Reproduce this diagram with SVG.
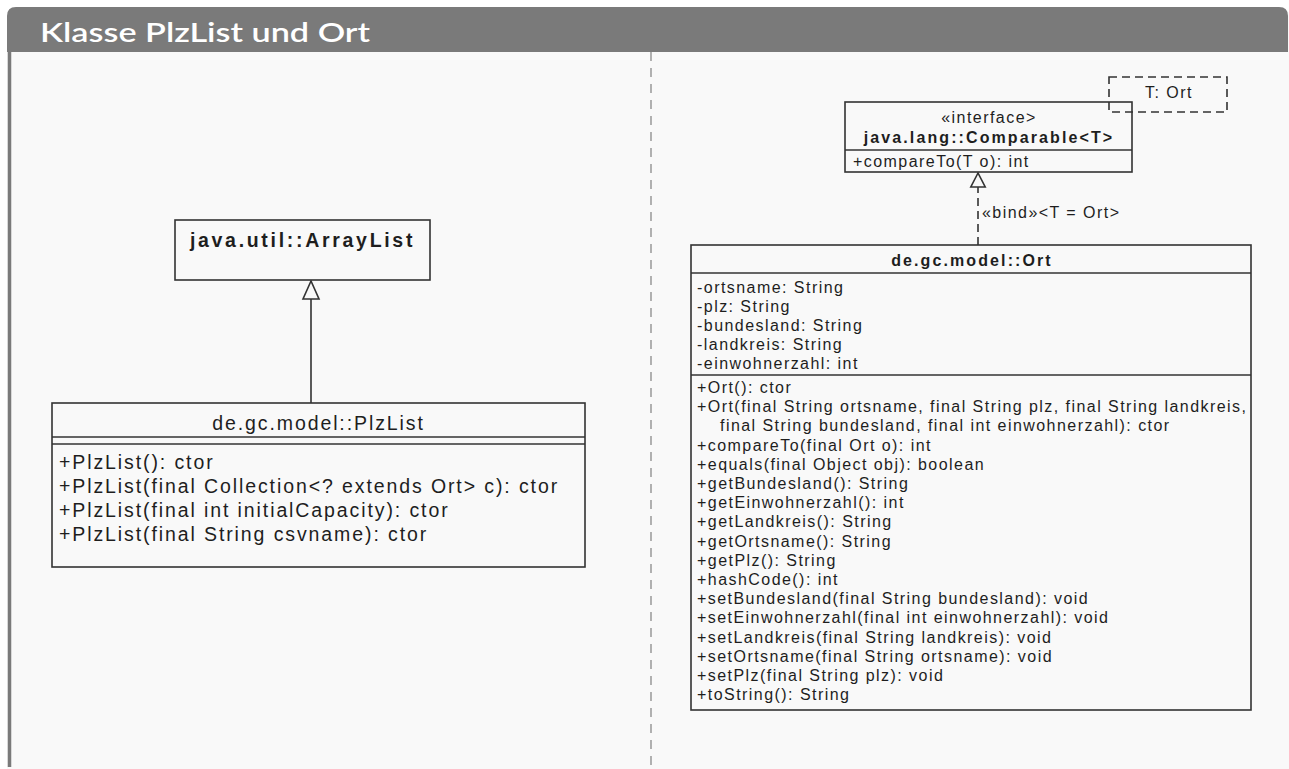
<svg xmlns="http://www.w3.org/2000/svg" width="1289" height="769" viewBox="0 0 1289 769">
<defs>
<style>
.t{font-family:"Liberation Sans",Arial,sans-serif;font-size:16px;letter-spacing:1.45px;fill:#1e1e1e}
.b{font-weight:bold;letter-spacing:2.1px}
.L{font-size:19.5px;letter-spacing:1.9px}
.LB{font-size:19.5px;font-weight:bold;letter-spacing:2.7px}
.box{fill:#f9f9f9;stroke:#333;stroke-width:1.6}
.ln{stroke:#333;stroke-width:1.6;fill:none}
.dash{stroke:#333;stroke-width:1.6;fill:none;stroke-dasharray:8 5}
.head{fill:#ffffff;font-family:Lato,"Open Sans",sans-serif;font-size:27px;font-weight:600}
</style>
<marker id="gen" markerWidth="20" markerHeight="20" refX="19" refY="9" orient="auto" markerUnits="userSpaceOnUse" viewBox="0 0 20 18">
<path d="M19 9 L1 1 L1 17 Z" fill="#f9f9f9" stroke="#333" stroke-width="1.6" stroke-linejoin="miter"/>
</marker>
<marker id="real" markerWidth="16" markerHeight="18" refX="15" refY="8" orient="auto" markerUnits="userSpaceOnUse" viewBox="0 0 16 16">
<path d="M15 8 L1 0.8 L1 15.2 Z" fill="#f9f9f9" stroke="#333" stroke-width="1.6"/>
</marker>
</defs>
<rect x="0" y="0" width="1289" height="769" fill="#ffffff"/>
<g id="frame">
<path d="M7 769 L7 16 Q7 7 16 7 L1280 7 Q1289 7 1289 16 L1289 769 Z" fill="#f9f9f9"/>
<path d="M7 52 L7 16 Q7 7 16 7 L1279 7 Q1288 7 1288 16 L1288 52 Z" fill="#7a7a7a"/>
<line x1="9.5" y1="52" x2="9.5" y2="767" stroke="#7a7a7a" stroke-width="3.5"/>
<text x="40" y="42" class="head" textLength="330" lengthAdjust="spacingAndGlyphs">Klasse PlzList und Ort</text>
<line x1="651" y1="52" x2="651" y2="769" stroke="#8a8a8a" stroke-width="1.3" stroke-dasharray="9 7"/>
</g>
<g id="connectors">
<line x1="311" y1="403" x2="311" y2="281" class="ln" marker-end="url(#gen)"/>
<line x1="978" y1="245" x2="978" y2="173" class="dash" marker-end="url(#real)"/>
<text x="982" y="218" class="t">«bind»&lt;T = Ort&gt;</text>
</g>
<g id="arraylist">
<rect x="175" y="220" width="255" height="60" class="box"/>
<text x="302.5" y="247" class="t LB" text-anchor="middle">java.util::ArrayList</text>
</g>
<g id="plzlist">
<rect x="52" y="403" width="533" height="164" class="box"/>
<line x1="52" y1="437" x2="585" y2="437" class="ln"/>
<line x1="52" y1="444" x2="585" y2="444" class="ln"/>
<text x="318.5" y="430" class="t L" text-anchor="middle">de.gc.model::PlzList</text>
<text x="59" y="469" class="t L">+PlzList(): ctor</text>
<text x="59" y="493" class="t L">+PlzList(final Collection&lt;? extends Ort&gt; c): ctor</text>
<text x="59" y="517" class="t L">+PlzList(final int initialCapacity): ctor</text>
<text x="59" y="541" class="t L">+PlzList(final String csvname): ctor</text>
</g>
<g id="comparable">
<rect x="845" y="102" width="287" height="70" class="box"/>
<line x1="845" y1="150" x2="1132" y2="150" class="ln"/>
<text x="989" y="123" class="t" text-anchor="middle">«interface&gt;</text>
<text x="989" y="143" class="t b" text-anchor="middle">java.lang::Comparable&lt;T&gt;</text>
<text x="853" y="167" class="t">+compareTo(T o): int</text>
</g>
<g id="param">
<rect x="1109" y="77" width="118" height="35" class="dash"/>
<text x="1169" y="98" class="t" text-anchor="middle">T: Ort</text>
</g>
<g id="ort">
<rect x="691" y="245" width="560" height="465" class="box"/>
<line x1="691" y1="273" x2="1251" y2="273" class="ln"/>
<line x1="691" y1="375" x2="1251" y2="375" class="ln"/>
<text x="972" y="266" class="t b" text-anchor="middle">de.gc.model::Ort</text>
<text x="697" y="293" class="t">-ortsname: String</text>
<text x="697" y="312" class="t">-plz: String</text>
<text x="697" y="331" class="t">-bundesland: String</text>
<text x="697" y="350" class="t">-landkreis: String</text>
<text x="697" y="369" class="t">-einwohnerzahl: int</text>
<text x="697" y="393" class="t">+Ort(): ctor</text>
<text x="697" y="412.2" class="t">+Ort(final String ortsname, final String plz, final String landkreis,</text>
<text x="720" y="431.4" class="t">final String bundesland, final int einwohnerzahl): ctor</text>
<text x="697" y="450.6" class="t">+compareTo(final Ort o): int</text>
<text x="697" y="469.8" class="t">+equals(final Object obj): boolean</text>
<text x="697" y="489" class="t">+getBundesland(): String</text>
<text x="697" y="508.2" class="t">+getEinwohnerzahl(): int</text>
<text x="697" y="527.4" class="t">+getLandkreis(): String</text>
<text x="697" y="546.6" class="t">+getOrtsname(): String</text>
<text x="697" y="565.8" class="t">+getPlz(): String</text>
<text x="697" y="585" class="t">+hashCode(): int</text>
<text x="697" y="604.2" class="t">+setBundesland(final String bundesland): void</text>
<text x="697" y="623.4" class="t">+setEinwohnerzahl(final int einwohnerzahl): void</text>
<text x="697" y="642.6" class="t">+setLandkreis(final String landkreis): void</text>
<text x="697" y="661.8" class="t">+setOrtsname(final String ortsname): void</text>
<text x="697" y="681" class="t">+setPlz(final String plz): void</text>
<text x="697" y="700.2" class="t">+toString(): String</text>
</g>
</svg>
